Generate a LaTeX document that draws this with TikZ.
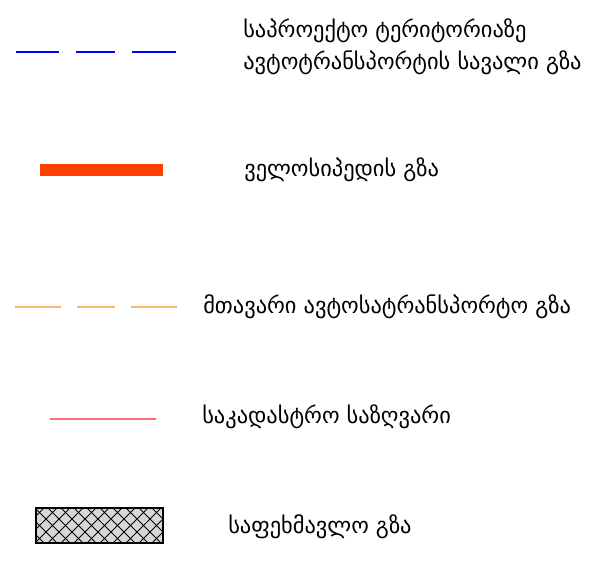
\documentclass[tikz,border=0pt]{standalone}
\usepackage{fontspec}
\setmainfont{DejaVu Sans}
\begin{document}
\begin{tikzpicture}[x=0.75pt,y=-0.75pt,
  lbl/.style={anchor=west,inner sep=0pt,font=\fontsize{16.8}{24}\selectfont,align=left},
  bluedash/.style={draw={rgb,255:red,0;green,0;blue,255},line width=1.6pt},
  orangedash/.style={draw={rgb,255:red,255;green,184;blue,112},line width=1.6pt},
  bikebar/.style={draw={rgb,255:red,255;green,64;blue,0},line width=9pt},
  cadline/.style={draw={rgb,255:red,255;green,110;blue,110},line width=1.5pt},
  hatchline/.style={line width=0.75pt},
  hatchbox/.style={draw=black,line width=1.5pt,fill={rgb,255:red,215;green,215;blue,215}}]
\useasboundingbox (0,0) rectangle (607,573);
% row 1
\coordinate (b1a) at (16,52); \coordinate (b1b) at (59,52);
\coordinate (b2a) at (76,52); \coordinate (b2b) at (115,52);
\coordinate (b3a) at (132,52); \coordinate (b3b) at (176,52);
\draw[bluedash] (b1a) -- (b1b) (b2a) -- (b2b) (b3a) -- (b3b);
\node[lbl] (t1) at (243,47) {საპროექტო ტერიტორიაზე\\ავტოტრანსპორტის სავალი გზა};
% row 2
\coordinate (r1) at (40,170); \coordinate (r2) at (163,170);
\draw[bikebar] (r1) -- (r2);
\node[lbl] (t2) at (244,170) {ველოსიპედის გზა};
% row 3
\coordinate (o1a) at (15,307); \coordinate (o1b) at (61,307);
\coordinate (o2a) at (77,307); \coordinate (o2b) at (115,307);
\coordinate (o3a) at (131,307); \coordinate (o3b) at (177,307);
\draw[orangedash] (o1a) -- (o1b) (o2a) -- (o2b) (o3a) -- (o3b);
\node[lbl] (t3) at (203,307) {მთავარი ავტოსატრანსპორტო გზა};
% row 4
\coordinate (c1) at (50,419); \coordinate (c2) at (156,419);
\draw[cadline] (c1) -- (c2);
\node[lbl] (t4) at (202,417) {საკადასტრო საზღვარი};
% row 5
\path[hatchbox] (36,508) rectangle (163,543);
\begin{scope}
\clip (36,508) rectangle (163,543);
\foreach \i in {0,...,14} {
  \draw[hatchline] ({36+13*\i-40},543) -- ({36+13*\i-5},508);
  \draw[hatchline] ({36+13*\i-40},508) -- ({36+13*\i-5},543);
}
\end{scope}
\draw[line width=1.5pt] (36,508) rectangle (163,543);
\node[lbl] (t5) at (228,527) {საფეხმავლო გზა};
\end{tikzpicture}
\end{document}
